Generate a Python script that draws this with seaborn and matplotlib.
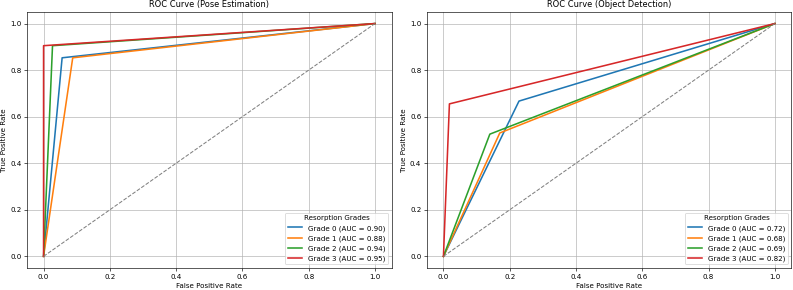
import matplotlib
matplotlib.use("Agg")
import matplotlib.pyplot as plt
import seaborn as sns
import pandas as pd

grades = ["Grade 0", "Grade 1", "Grade 2", "Grade 3"]

pose_fpr = [[0.0, 0.056, 1.0], [0.0, 0.088, 1.0], [0.0, 0.027, 1.0], [0.0, 0.0, 1.0]]
pose_tpr = [[0.0, 0.853, 1.0], [0.0, 0.853, 1.0], [0.0, 0.905, 1.0], [0.0, 0.905, 1.0]]
pose_auc = [0.90, 0.88, 0.94, 0.95]

det_fpr = [[0.0, 0.228, 1.0], [0.0, 0.17, 1.0], [0.0, 0.14, 1.0], [0.0, 0.018, 1.0]]
det_tpr = [[0.0, 0.667, 1.0], [0.0, 0.53, 1.0], [0.0, 0.525, 1.0], [0.0, 0.655, 1.0]]
det_auc = [0.72, 0.68, 0.69, 0.82]

titles = ["ROC Curve (Pose Estimation)", "ROC Curve (Object Detection)"]

FS = 9
plt.rcParams.update({"font.size": FS})
palette = sns.color_palette("tab10", 4)

fig, axes = plt.subplots(1, 2, figsize=(14, 5.115), dpi=56.71)
fig.subplots_adjust(left=0.034, right=0.9968, top=0.9586, bottom=0.0759, wspace=0.097)

def build(fprs, tprs, aucs):
    rows = []
    for g, fp, tp, a in zip(grades, fprs, tprs, aucs):
        lab = f"{g} (AUC = {a:.2f})"
        for i, (x, y) in enumerate(zip(fp, tp)):
            rows.append({"fpr": x, "tpr": y, "label": lab, "order": i})
    return pd.DataFrame(rows)

for ax, (fprs, tprs, aucs), title in zip(axes, [(pose_fpr, pose_tpr, pose_auc), (det_fpr, det_tpr, det_auc)], titles):
    df = build(fprs, tprs, aucs)
    sns.lineplot(data=df, x="fpr", y="tpr", hue="label", palette=palette,
                 estimator=None, sort=False, units="label", ax=ax, linewidth=2)
    ax.plot([0, 1], [0, 1], linestyle="--", color="gray", linewidth=1.3)
    ax.set_title(title, fontsize=10.5)
    ax.set_xlabel("False Positive Rate", fontsize=FS)
    ax.set_ylabel("True Positive Rate", fontsize=FS)
    ax.grid(True)
    ax.legend(title="Resorption Grades", loc="lower right", fontsize=FS, title_fontsize=FS)
    ax.tick_params(labelsize=FS)

fig.savefig("out.png", dpi=56.71)
